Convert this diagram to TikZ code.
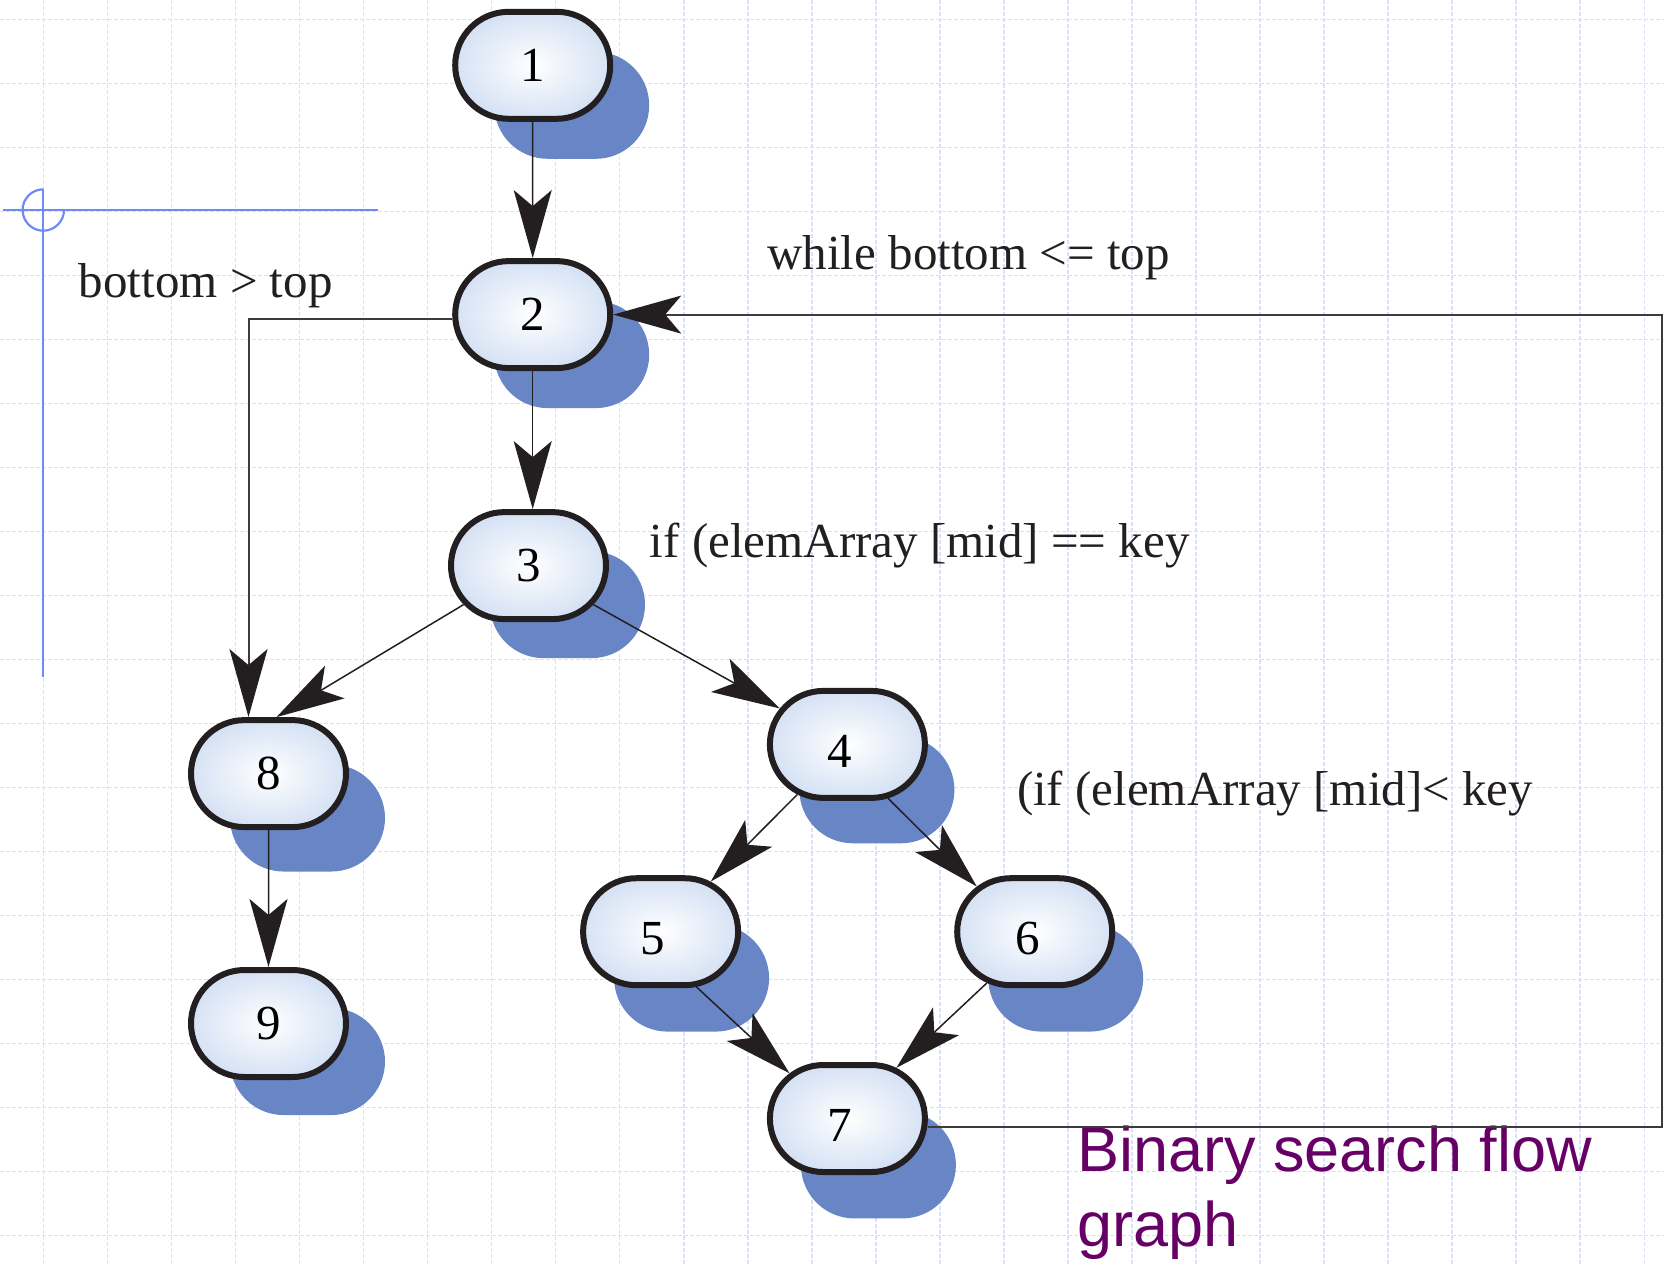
\documentclass[tikz,border=0pt]{standalone}
\usepackage{fontspec}
\setmainfont{Liberation Serif}
\newfontfamily\titlefont{Liberation Sans}
\usetikzlibrary{arrows.meta,shapes.misc,shadows}
\definecolor{gridblue}{RGB}{216,224,251}
\definecolor{crossblue}{RGB}{110,138,245}
\definecolor{shadowblue}{RGB}{104,134,197}
\definecolor{nodefill}{RGB}{214,226,244}
\definecolor{nodeline}{RGB}{35,31,32}
\definecolor{loopgray}{RGB}{60,60,60}
\definecolor{titlepurple}{RGB}{102,0,102}
\tikzset{
  blob/.style 2 args={shape=rounded rectangle, draw=nodeline, line width=3pt,
    minimum width=77.5pt, minimum height=53.5pt, inner sep=0pt,
    shading=radial, inner color=white, outer color=nodefill,
    drop shadow={shadow xshift=#1, shadow yshift=#2, fill=shadowblue, opacity=1},
    font=\fontsize{24.5pt}{29pt}\selectfont},
  lowdigit/.style={text height=23pt, text depth=0pt},
  flow/.style={draw=nodeline, line width=0.75pt,
    -{Stealth[length=34pt, width=19pt, inset=8pt, color=nodeline]}},
  back/.style={flow, draw=loopgray, line width=1pt},
  lbl/.style={anchor=base west, inner sep=0pt, text=nodeline,
    font=\fontsize{24.5pt}{29pt}\selectfont},
}

\begin{document}
\begin{tikzpicture}[x=0.5pt, y=-0.5pt]
    \useasboundingbox (0,0) rectangle (1664,1264);
    \foreach \gx in {0,...,25}
        \draw[gridblue, line width=0.8pt, dash pattern=on 2pt off 1pt] (43.3+64.04*\gx,0) -- ++(0,1264);
    \foreach \gy in {0,...,19}
        \draw[gridblue, line width=0.8pt, dash pattern=on 2pt off 1pt] (0,19.3+64*\gy) -- ++(1664,0);

    \draw[crossblue, line width=1.1pt] (2.7,210) -- (378.3,210);
    \draw[crossblue, line width=1.1pt] (43.3,189.3) -- (43.3,677);
    \draw[crossblue, line width=1.1pt] (43.3,189.3) arc[start angle=90, end angle=360, radius=10.35pt];

    \node[blob={19.5pt}{-20pt}] (n1) at (532.7,65.3) {1};
    \node[blob={19.5pt}{-20pt}] (n2) at (532.7,314.6) {2};
    \node[blob={19.5pt}{-19.5pt}] (n3) at (528.5,565.6) {3};
    \node[blob={14.75pt}{-22.7pt}, lowdigit] (n4) at (847.4,744.4) {\kern-7.4pt4};
    \node[blob={15.5pt}{-23.2pt}, lowdigit] (n5) at (660.6,931.7) {\kern-7.4pt5};
    \node[blob={15.5pt}{-23.2pt}, lowdigit] (n6) at (1034.7,931.7) {\kern-7.4pt6};
    \node[blob={15.5pt}{-23.2pt}, lowdigit] (n7) at (847.4,1118.5) {\kern-7.4pt7};
    \node[blob={19.5pt}{-22.2pt}] (n8) at (268.5,773.6) {8};
    \node[blob={19.5pt}{-19pt}] (n9) at (268.5,1023.5) {9};

    \node[lbl] (cond28) at (78.5,297) {bottom > top};
    \node[lbl] (cond72) at (767,269) {while bottom <= top};
    \node[lbl] (cond34) at (649.5,557) {if (elemArray [mid] == key};
    \node[lbl] (cond45) at (1016.6,805) {(if (elemArray [mid]< key};
    \node[anchor=base west, align=left, inner sep=0pt, text=titlepurple,
        font=\titlefont\fontsize{31.5pt}{37.5pt}\selectfont] (title) at (1077,1246.7) {Binary search flow\\graph};

    \coordinate (loopx) at (1662,700);

    \draw[flow] (n1) -- (n2);
    \draw[flow] (n2.south) -- (n2.south |- n3.north);
    \draw[flow] (n3.211) -- (n8.82);
    \draw[flow] (n3.329) -- (n4.152);
    \draw[flow] (n4.225) -- (n5.45);
    \draw[flow] (n4.307) -- (n6.142);
    \draw[flow] (n5.303) -- (n7.142);
    \draw[flow] (n6.227) -- (n7.46);
    \draw[flow] (n8) -- (n9);
    \draw[back] (n2.183) -| ([xshift=-10pt]n8.north);
    \draw[back] ([yshift=-4pt]n7.east) -| (loopx) |- (n2.east);
\end{tikzpicture}
\end{document}
